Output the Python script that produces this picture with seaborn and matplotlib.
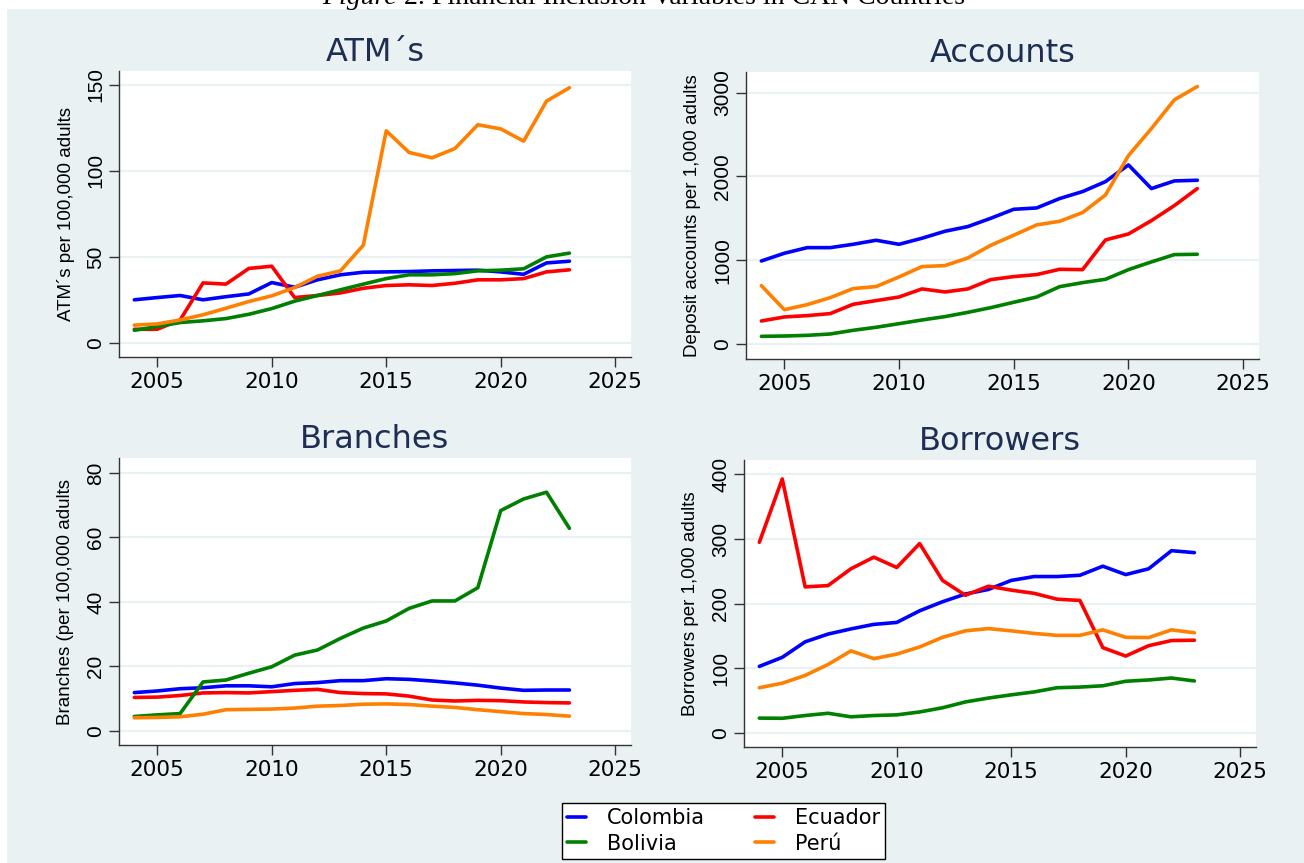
import matplotlib
matplotlib.use("Agg")
import matplotlib.pyplot as plt
from matplotlib.patches import Rectangle
from matplotlib.lines import Line2D
import seaborn as sns
import pandas as pd

# ---------------- data ----------------
years = list(range(2004, 2024))
countries = ["Colombia", "Ecuador", "Bolivia", "Perú"]

atm_colombia = [25.2, 26.5, 27.7, 25.2, 27.0, 28.6, 35.2, 32.5, 36.8, 39.7, 41.2, 41.4, 41.6, 42.0, 42.2, 42.4, 41.4, 40.0, 46.6, 47.6]
atm_ecuador = [8.1, 8.1, 13.5, 35.0, 34.3, 43.4, 44.7, 26.5, 27.7, 29.2, 31.9, 33.5, 33.9, 33.5, 34.8, 36.8, 36.8, 37.5, 41.4, 42.6]
atm_bolivia = [7.5, 9.7, 12.0, 13.0, 14.3, 16.8, 20.1, 24.4, 27.7, 31.0, 34.3, 37.5, 39.7, 39.7, 40.4, 42.0, 42.4, 43.2, 50.1, 52.3]
atm_peru = [10.5, 11.2, 13.5, 16.5, 20.3, 24.2, 27.5, 32.3, 38.9, 42.0, 56.9, 123.3, 110.7, 107.6, 113.0, 126.8, 124.4, 117.3, 140.5, 148.3]

acc_colombia = [993, 1085, 1152, 1152, 1192, 1240, 1192, 1264, 1347, 1403, 1502, 1609, 1625, 1737, 1820, 1939, 2138, 1856, 1947, 1955]
acc_ecuador = [278, 326, 342, 366, 477, 521, 564, 660, 624, 660, 771, 807, 831, 894, 890, 1244, 1315, 1474, 1653, 1856]
acc_bolivia = [95, 99, 107, 123, 167, 203, 246, 290, 330, 381, 437, 501, 564, 687, 735, 775, 890, 982, 1069, 1073]
acc_peru = [699, 413, 473, 556, 664, 688, 803, 926, 938, 1029, 1180, 1300, 1423, 1466, 1570, 1780, 2249, 2571, 2913, 3072]

br_colombia = [11.9, 12.4, 13.1, 13.4, 14.0, 14.0, 13.7, 14.7, 15.0, 15.6, 15.6, 16.2, 16.0, 15.5, 14.9, 14.2, 13.3, 12.6, 12.7, 12.7]
br_ecuador = [10.4, 10.5, 11.0, 11.8, 11.9, 11.8, 12.2, 12.6, 12.9, 11.9, 11.6, 11.5, 10.8, 9.6, 9.3, 9.5, 9.4, 9.0, 8.8, 8.7]
br_bolivia = [4.5, 5.0, 5.4, 15.2, 15.8, 17.9, 19.9, 23.5, 25.1, 28.7, 31.9, 34.1, 38.0, 40.3, 40.3, 44.4, 68.3, 71.9, 74.0, 62.8]
br_peru = [4.1, 4.2, 4.4, 5.2, 6.6, 6.7, 6.8, 7.1, 7.7, 7.9, 8.3, 8.4, 8.2, 7.7, 7.3, 6.6, 6.0, 5.4, 5.1, 4.6]

bor_colombia = [103, 117, 141, 153, 161, 168, 171, 189, 203, 215, 222, 236, 242, 242, 244, 258, 245, 254, 282, 279]
bor_ecuador = [295, 393, 226, 228, 254, 272, 256, 293, 236, 213, 227, 221, 216, 207, 205, 132, 119, 135, 143, 143.5]
bor_bolivia = [23, 22.7, 27, 30.5, 25, 27, 28, 32.5, 39, 48, 54, 59, 63.5, 70, 71, 73, 80, 82, 85, 80.5]
bor_peru = [70, 77, 89, 106, 127, 115, 122, 133, 148, 158, 161.5, 158, 154, 151, 151, 159.5, 148, 147.6, 159.5, 155]

titles = ["ATM´s", "Accounts", "Branches", "Borrowers"]
ylabels = ["ATM´s per 100,000 adults", "Deposit accounts per 1,000 adults",
           "Branches (per 100,000 adults", "Borrowers per 1,000 adults"]
yticks = [[0, 50, 100, 150], [0, 1000, 2000, 3000], [0, 20, 40, 60, 80], [0, 100, 200, 300, 400]]
xticks = [2005, 2010, 2015, 2020, 2025]
caption_italic = "Figure"
caption_rest = " 2. Financial Inclusion Variables in CAN Countries"

panels = [
    [atm_colombia, atm_ecuador, atm_bolivia, atm_peru],
    [acc_colombia, acc_ecuador, acc_bolivia, acc_peru],
    [br_colombia, br_ecuador, br_bolivia, br_peru],
    [bor_colombia, bor_ecuador, bor_bolivia, bor_peru],
]

palette = {"Colombia": "#0000FF", "Ecuador": "#FF0000", "Bolivia": "#008000", "Perú": "#FF8000"}

# ---------------- style ----------------
sns.set_theme(style="white")
plt.rcParams["font.family"] = ["DejaVu Sans"]

W, H = 1304, 863
fig = plt.figure(figsize=(W / 100, H / 100), dpi=100)
fig.patch.set_facecolor("white")
BG = "#E9F1F3"
bg = Rectangle((7 / W, 0), 1 - 7 / W, (H - 9) / H, transform=fig.transFigure,
               facecolor=BG, edgecolor="none", zorder=-10)
fig.patches.append(bg)

# axes boxes in pixel coords: left, right, top, bottom
boxes = [(119, 631, 71, 357), (746, 1259, 72, 359), (119, 631, 458, 745), (744, 1256, 460, 747)]
ylims = [(-8, 158), (-175, 3245), (-4.34, 84.6), (-21.7, 422.3)]
xlim = (2003.33, 2025.69)

for i, (l, r, t, b) in enumerate(boxes):
    ax = fig.add_axes([l / W, 1 - b / H, (r - l) / W, (b - t) / H])
    ax.set_zorder(1)
    ax.set_facecolor("white")
    rows = []
    for c, vals in zip(countries, panels[i]):
        for y, v in zip(years, vals):
            rows.append({"year": y, "value": v, "country": c})
    df = pd.DataFrame(rows)
    sns.lineplot(data=df, x="year", y="value", hue="country", hue_order=countries,
                 palette=palette, ax=ax, legend=False, linewidth=2.6)
    ax.set_xlim(*xlim)
    ax.set_ylim(*ylims[i])
    ax.set_xticks(xticks)
    ax.set_yticks(yticks[i])
    ax.set_xticklabels([str(x) for x in xticks])
    ax.set_yticklabels([str(v) for v in yticks[i]])
    for yv in yticks[i]:
        ax.axhline(yv, color=BG, lw=1.6, zorder=0.5)
    for s in ["top", "right"]:
        ax.spines[s].set_visible(False)
    for s in ["left", "bottom"]:
        ax.spines[s].set_color("#333333")
        ax.spines[s].set_linewidth(1.0)
    ax.tick_params(axis="both", which="major", direction="out", length=7, width=1.0,
                   color="#333333", left=True, bottom=True)
    ax.tick_params(axis="x", labelsize=15.5, pad=4, labelcolor="black")
    ax.tick_params(axis="y", labelsize=15, pad=3, labelrotation=90, labelcolor="black")
    for lab in ax.get_yticklabels():
        lab.set_fontfamily(["Liberation Sans", "DejaVu Sans"])
        lab.set_va("center")
    ax.set_xlabel("")
    ax.set_ylabel(ylabels[i], fontsize=13.5, family=["Liberation Sans", "DejaVu Sans"], color="black")
    ax.yaxis.label.set_va("center")
    ax.yaxis.set_label_coords(-0.104, 0.5)
    ax.set_title(titles[i], fontsize=23, color="#1E2D53", pad=7)

handles = [Line2D([], [], color=palette[c], lw=2.6) for c in ["Colombia", "Bolivia", "Ecuador", "Perú"]]
labels = ["Colombia", "Bolivia", "Ecuador", "Perú"]
leg = fig.legend(handles, labels, ncol=2, loc="center", bbox_to_anchor=(723.5 / W, 1 - 831 / H),
                 fontsize=15, frameon=True, fancybox=False, edgecolor="black", facecolor="white",
                 framealpha=1, handlelength=0.9, handletextpad=1.0, columnspacing=2.4,
                 labelspacing=0.25, borderpad=0.25, labelcolor="black")
leg.get_frame().set_linewidth(1.0)
leg.set_zorder(5)

# caption (cut off at the top edge, as in the source)
split_x = 397 / W
fig.text(split_x, 1 - 4 / H, caption_italic, ha="right", va="baseline", fontsize=20,
         family=["Liberation Serif"], style="italic", color="black")
fig.text(split_x, 1 - 4 / H, caption_rest, ha="left", va="baseline", fontsize=20,
         family=["Liberation Serif"], color="black")

fig.savefig("out.png", dpi=100, facecolor=fig.get_facecolor())
